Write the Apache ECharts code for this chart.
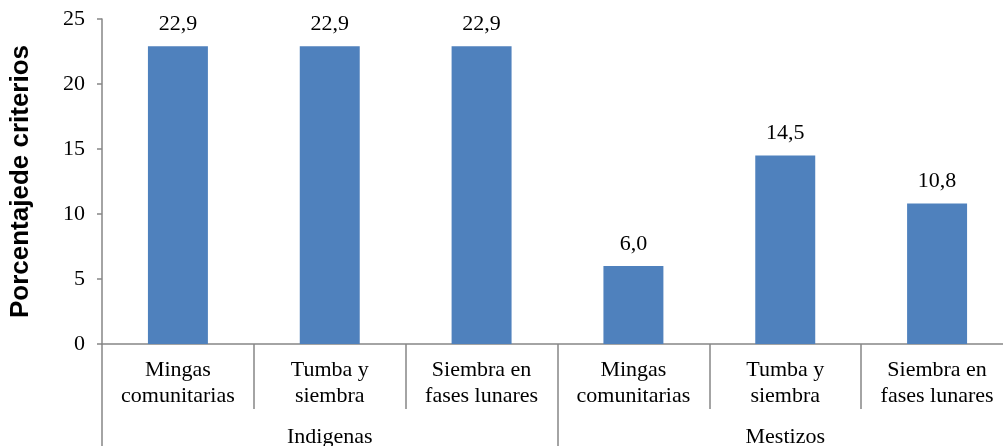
<!DOCTYPE html>
<html>
<head>
<meta charset="utf-8">
<script src="https://cdn.jsdelivr.net/npm/echarts@6/dist/echarts.min.js"></script>
<style>
html,body{margin:0;padding:0;background:#fff;}
#chart{width:1003px;height:446px;}
</style>
</head>
<body>
<div id="chart"></div>
<script>
const categories = ['Mingas\ncomunitarias', 'Tumba y\nsiembra', 'Siembra en\nfases lunares', 'Mingas\ncomunitarias', 'Tumba y\nsiembra', 'Siembra en\nfases lunares'];
const groups = ['Indigenas', 'Mestizos'];
const values = [22.9, 22.9, 22.9, 6.0, 14.5, 10.8];
const yAxisTitle = 'Porcentajede criterios';

const serif = 'Liberation Serif, Times New Roman, serif';
const axisGray = '#868686';

const chart = echarts.init(document.getElementById('chart'), null, {renderer: 'canvas'});
chart.setOption({
  animation: false,
  backgroundColor: '#fff',
  grid: {left: 102, right: -10, top: 19, bottom: 102, containLabel: false, outerBoundsMode: 'none'},
  xAxis: [
    {
      type: 'category',
      data: categories,
      position: 'bottom',
      axisLine: {show: true, lineStyle: {color: axisGray, width: 1.5}},
      axisTick: {show: true, interval: 0, length: 65, lineStyle: {color: axisGray, width: 1.5}},
      axisLabel: {interval: 0, margin: 13, fontFamily: serif, fontSize: 22, color: '#000', lineHeight: 26},
      splitLine: {show: false}
    },
    {
      type: 'category',
      data: groups,
      position: 'bottom',
      axisLine: {show: false},
      axisTick: {show: true, interval: 0, length: 110, lineStyle: {color: axisGray, width: 1.5}},
      axisLabel: {interval: 0, margin: 80, fontFamily: serif, fontSize: 22, color: '#000', lineHeight: 26},
      splitLine: {show: false}
    }
  ],
  yAxis: {
    type: 'value',
    min: 0, max: 25, interval: 5,
    name: yAxisTitle,
    nameLocation: 'middle',
    nameRotate: 90,
    nameGap: 68,
    nameTextStyle: {fontFamily: 'Liberation Sans, Arial, sans-serif', fontWeight: 'bold', fontSize: 26, color: '#000'},
    axisLine: {show: true, lineStyle: {color: axisGray, width: 1.5}},
    axisTick: {show: true, length: 5, lineStyle: {color: axisGray, width: 1.5}},
    axisLabel: {margin: 17, fontFamily: serif, fontSize: 22, color: '#000'},
    splitLine: {show: false}
  },
  series: [{
    type: 'bar',
    xAxisIndex: 0,
    data: values,
    barWidth: '39.5%',
    itemStyle: {color: '#4F81BD'},
    label: {
      show: true, position: 'top', distance: 11,
      fontFamily: serif, fontSize: 22, color: '#000',
      formatter: p => p.value.toFixed(1).replace('.', ',')
    }
  }]
});
</script>
</body>
</html>
